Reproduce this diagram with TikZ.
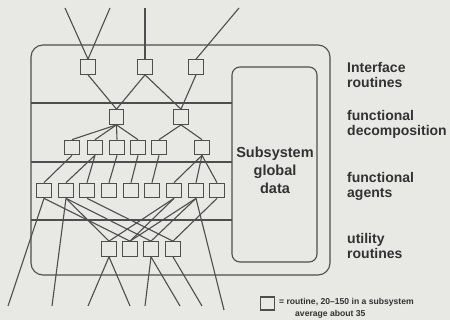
\documentclass[tikz,border=0pt]{standalone}
\usepackage{fontspec}
\setmainfont{Liberation Sans}
\definecolor{bg}{RGB}{232,232,229}
\definecolor{ink}{RGB}{78,78,78}
\definecolor{txt}{RGB}{50,50,50}
\begin{document}
\begin{tikzpicture}[x=1pt,y=-1pt,
  rt/.style={draw=ink, fill=bg, line width=1.2pt, minimum width=14.5pt, minimum height=14.5pt, inner sep=0pt},
  ln/.style={draw=ink, line width=1.1pt},
  lbl/.style={text=txt, font=\bfseries\fontsize{14}{15}\selectfont, align=left, anchor=west, inner sep=0pt},
  small/.style={text=txt, font=\bfseries\fontsize{8.6}{10}\selectfont, anchor=west, inner sep=0pt}]
\fill[bg] (0,0) rectangle (450,320);
\useasboundingbox (0,0) rectangle (450,320);

% outer subsystem box and global data box
\draw[ln, rounded corners=12pt] (31,45) rectangle (330,275);
\node (data) [draw=ink, line width=1.1pt, rounded corners=8pt, minimum width=85pt, minimum height=195pt, inner sep=0pt] at (274.5,164.5) {};
\node (datatxt) [text=txt, font=\bfseries\fontsize{14.5}{18}\selectfont, align=center, inner sep=0pt] at (275,170) {Subsystem\\global\\data};

% layer separators
\draw[ln] (31,103) -- (232,103);
\draw[ln] (31,162) -- (232,162);
\draw[ln] (31,220) -- (232,220);

% interface routines
\node[rt] (i1) at (88,67) {};
\node[rt] (i2) at (145,67) {};
\node[rt] (i3) at (196,67) {};
% functional decomposition
\node[rt] (d1) at (116.5,117) {};
\node[rt] (d2) at (181,117) {};
\node[rt] (e1) at (72,147.5) {};
\node[rt] (e2) at (95,147.5) {};
\node[rt] (e3) at (117,147.5) {};
\node[rt] (e4) at (138,147.5) {};
\node[rt] (e5) at (159,147.5) {};
\node[rt] (e6) at (202,147.5) {};
% functional agents
\node[rt] (a1) at (44,190.5) {};
\node[rt] (a2) at (66,190.5) {};
\node[rt] (a3) at (87,190.5) {};
\node[rt] (a4) at (109,190.5) {};
\node[rt] (a5) at (131,190.5) {};
\node[rt] (a6) at (152,190.5) {};
\node[rt] (a7) at (174,190.5) {};
\node[rt] (a8) at (196,190.5) {};
\node[rt] (a9) at (217,190.5) {};
% utility routines
\node[rt] (u1) at (109,249) {};
\node[rt] (u2) at (130,249) {};
\node[rt] (u3) at (151,249) {};
\node[rt] (u4) at (173,249) {};

% free ends
\coordinate (t1) at (65,8);
\coordinate (t2) at (110,8);
\coordinate (t3) at (145,8);
\coordinate (t4) at (239,8);
\coordinate (b1) at (8,306);
\coordinate (b2) at (52,306);
\coordinate (b3) at (88,306);
\coordinate (b4) at (130,306);
\coordinate (b5) at (145,306);
\coordinate (b6) at (180,306);
\coordinate (b7) at (202,306);
\coordinate (b8) at (224,310);

% connectors
\draw[ln] (t1) -- (i1.north);
\draw[ln] (t2) -- (i1.north);
\draw[ln] (t3) -- (i2.north);
\draw[ln] (t4) -- (i3.north);
\draw[ln] (i1.south) -- (d1.north);
\draw[ln] (i2.south) -- (d1.north);
\draw[ln] (i2.south) -- (d2.north);
\draw[ln] (i3.south) -- (d2.north);
\foreach \n in {e1,e2,e3,e4} \draw[ln] (d1.south) -- (\n.north);
\foreach \n in {e5,e6} \draw[ln] (d2.south) -- (\n.north);
\draw[ln] (e1.south) -- (a1.north);
\draw[ln] (e2.south) -- (a2.north);
\draw[ln] (e2.south) -- (a3.north);
\draw[ln] (e3.south) -- (a4.north);
\draw[ln] (e4.south) -- (a5.north);
\draw[ln] (e5.south) -- (a6.north);
\foreach \n in {a7,a8,a9} \draw[ln] (e6.south) -- (\n.north);
\draw[ln] (a1.south) -- (u2.north);
\draw[ln] (a2.south) -- (u1.north);
\draw[ln] (a2.south) -- (u3.north);
\draw[ln] (a3.south) -- (u4.north);
\draw[ln] (a7.south) -- (u1.north);
\draw[ln] (a7.south) -- (u2.north);
\draw[ln] (a8.south) -- (u2.north);
\draw[ln] (a8.south) -- (u3.north);
\draw[ln] (a9.south) -- (u4.north);
\draw[ln] (a1.south) -- (b1);
\draw[ln] (a2.south) -- (b2);
\draw[ln] (a8.south) -- (b8);
\draw[ln] (u1.south) -- (b3);
\draw[ln] (u1.south) -- (b4);
\draw[ln] (u3.south) -- (b5);
\draw[ln] (u3.south) -- (b6);
\draw[ln] (u4.south) -- (b7);

% layer labels
\node[lbl] (l1) at (347,74.5) {Interface\\routines};
\node[lbl] (l2) at (347,124.5) {functional\\decomposition};
\node[lbl] (l3) at (347,186.5) {functional\\agents};
\node[lbl] (l4) at (347,245.5) {utility\\routines};

% legend
\node[rt, minimum height=13pt] (leg) at (267.5,303.5) {};
\node[small] (legt1) at (279,302) {= routine, 20–150 in a subsystem};
\node[small] (legt2) at (295,314) {average about 35};
\end{tikzpicture}
\end{document}
